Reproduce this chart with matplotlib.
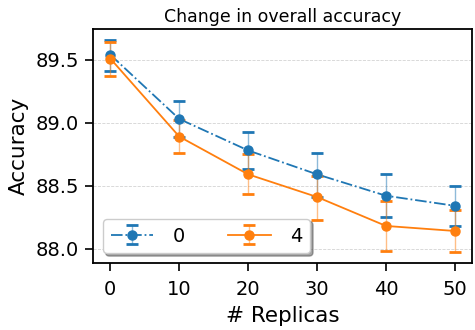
import numpy as np
import matplotlib
matplotlib.use("Agg")
import matplotlib.pyplot as plt

replicas = [0, 10, 20, 30, 40, 50]

acc_0 = [89.54, 89.03, 88.78, 88.59, 88.42, 88.34]
err_0_lo = [0.13, 0.14, 0.15, 0.18, 0.17, 0.16]
err_0_hi = [0.12, 0.14, 0.15, 0.17, 0.17, 0.16]

acc_4 = [89.51, 88.89, 88.59, 88.41, 88.18, 88.14]
err_4_lo = [0.14, 0.13, 0.16, 0.18, 0.20, 0.17]
err_4_hi = [0.13, 0.13, 0.16, 0.17, 0.20, 0.17]

fig = plt.figure(figsize=(4.75, 3.3), dpi=100)
ax = fig.add_axes([0.196, 0.203, 0.798, 0.709])

eb0 = ax.errorbar(replicas, acc_0, yerr=[err_0_lo, err_0_hi], fmt='o-.',
                  color='tab:blue', markersize=6.5, linewidth=1.3, capsize=4,
                  capthick=2, elinewidth=1, label='0')
eb4 = ax.errorbar(replicas, acc_4, yerr=[err_4_lo, err_4_hi], fmt='o-',
                  color='tab:orange', markersize=6.5, linewidth=1.3, capsize=4,
                  capthick=2, elinewidth=1, label='4')
for eb in (eb0, eb4):
    for l in eb[2]:
        l.set_alpha(0.5)

ax.yaxis.grid(True, linestyle='--', color='lightgray', linewidth=0.6)
ax.set_yticks([88.0, 88.5, 89.0, 89.5])
ax.set_xticks(replicas)
ax.tick_params(labelsize=14, width=1.2, length=6, pad=4)
ax.tick_params(axis='x', pad=6)
for s in ax.spines.values():
    s.set_linewidth(1.3)

ax.set_xlabel('# Replicas', fontsize=15.5, labelpad=5)
ax.set_ylabel('Accuracy', fontsize=15.5, labelpad=5)
ax.set_title('Change in overall accuracy', fontsize=12.5, pad=5)

ax.legend(loc='lower left', ncol=2, shadow=True, fancybox=True, fontsize=14,
          columnspacing=2.2, handlelength=2.2, handletextpad=1.0)

fig.savefig('out.png', dpi=100)
